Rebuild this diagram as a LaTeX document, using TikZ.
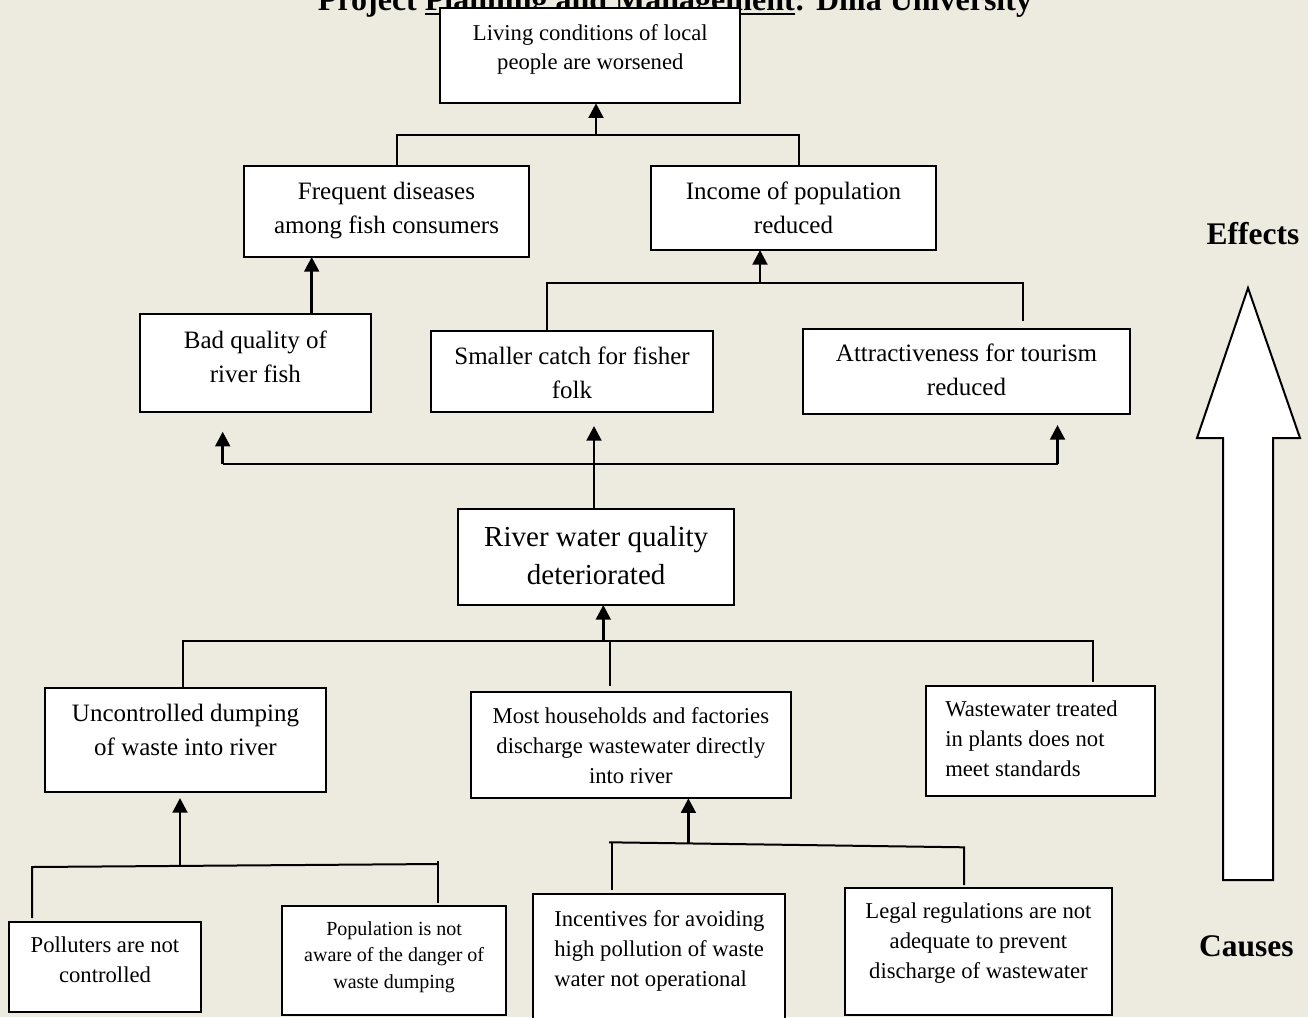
\documentclass[tikz,border=0pt]{standalone}
\usepackage{fontspec}
\setmainfont{Liberation Serif}
\usetikzlibrary{arrows.meta}
\definecolor{paper}{RGB}{237,234,224}
% underline drawn through the descenders, as a word processor does
\newcommand\titleul[1]{\setbox0\hbox{#1}\rlap{\rule[-3pt]{\wd0}{1.4pt}}\box0}
\begin{document}
\begin{tikzpicture}[x=0.75pt,y=-0.75pt,
  box/.style={draw=black, fill=white, line width=1.5pt, inner sep=0pt, outer sep=0pt},
  sz/.style 2 args={minimum width=#1*0.75pt, minimum height=#2*0.75pt},
  txt/.style={inner sep=0pt, align=center, text=black},
  fA/.style={font=\fontsize{18.75}{25.5}\selectfont},
  fB/.style={font=\fontsize{17}{22.5}\selectfont},
  fC/.style={font=\fontsize{15}{20}\selectfont},
  fD/.style={font=\fontsize{21.75}{28.7}\selectfont},
  side/.style={inner sep=0pt, anchor=base, font=\bfseries\fontsize{23.6}{28}\selectfont},
  link/.style={line width=1.5pt},
  up/.style={line width=2.2pt, -{Triangle[length=11pt,width=11pt]}},
]
\useasboundingbox (0,0) rectangle (1308,1017);
\clip (0,0) rectangle (1308,1017);
\fill[paper] (0,0) rectangle (1308,1017);

% heading
\node[inner sep=0pt, anchor=base, font=\bfseries\fontsize{24}{28}\selectfont] (title) at (675,10.7)
  {Project \titleul{Planning and Management}: Dilla University};

% boxes
\node[box, sz={300}{95}]      (top)     at (590.3,55.8) {};
\node[box, sz={285}{91.3}]    (freq)    at (386.5,211.35) {};
\node[box, sz={285}{84}]      (income)  at (793.5,208) {};
\node[box, sz={230.7}{97.7}]  (bad)     at (255.35,362.85) {};
\node[box, sz={282}{80.7}]    (smaller) at (572,371.35) {};
\node[box, sz={327}{85}]      (attract) at (966.5,371.8) {};
\node[box, sz={275.7}{95.7}]  (river)   at (596.15,557.15) {};
\node[box, sz={281}{103.7}]   (uncont)  at (185.5,739.85) {};
\node[box, sz={320.2}{106}]   (most)    at (630.9,745.3) {};
\node[box, sz={229.2}{110}]   (waste)   at (1040.4,740.7) {};
\node[box, sz={192}{90}]      (poll)    at (105,967.3) {};
\node[box, sz={223.4}{109}]   (popul)   at (394.15,960.5) {};
\node[box, sz={251.8}{135.7}] (incent)  at (659.3,962.15) {};
\node[box, sz={267.9}{126.7}] (legal)   at (978.45,951.65) {};

% box texts
\node[txt, font=\fontsize{17}{21.4}\selectfont] (top-t) at (590.3,49.2) {Living conditions of local\\people are worsened};
\node[txt, fA] (freq-t)    at (386.5,210.1)  {Frequent diseases\\among fish consumers};
\node[txt, fA] (income-t)  at (793.5,207.5)  {Income of population\\reduced};
\node[txt, fA] (bad-t)     at (255.35,356.4) {Bad quality of\\river fish};
\node[txt, fA] (smaller-t) at (572,373)      {Smaller catch for fisher\\folk};
\node[txt, fA] (attract-t) at (966.5,370.2)  {Attractiveness for tourism\\reduced};
\node[txt, fD] (river-t)   at (596.15,555.9) {River water quality\\deteriorated};
\node[txt, fA] (uncont-t)  at (185.5,729.9)  {Uncontrolled dumping\\of waste into river};
\node[txt, fB] (most-t)    at (630.9,745.2)  {Most households and factories\\discharge wastewater directly\\into river};
\node[txt, fB, align=left, anchor=west] (waste-t) at (945,739) {Wastewater treated\\in plants does not\\meet standards};
\node[txt, fB] (poll-t)    at (105,960.2)    {Polluters are not\\controlled};
\node[txt, fC] (popul-t)   at (394.15,957)   {Population is not\\aware of the danger of\\waste dumping};
\node[txt, fB, align=left, anchor=west] (incent-t) at (554,950.5) {Incentives for avoiding\\high pollution of waste\\water not operational};
\node[txt, fB] (legal-t)   at (978.45,943.5) {Legal regulations are not\\adequate to prevent\\discharge of wastewater};

% junction points
\coordinate (aL) at (396.7,135);  \coordinate (aR) at (799,135);   \coordinate (aM) at (596,135);
\coordinate (bA) at (311.7,314);
\coordinate (cL) at (546.7,282.5); \coordinate (cR) at (1022.7,282.5); \coordinate (cM) at (760,282.5);
\coordinate (cE) at (1022.7,321);
\coordinate (dL) at (222.7,463.5); \coordinate (dM) at (594,463.5);  \coordinate (dR) at (1057.5,463.5);
\coordinate (dLt) at (222.7,431.7); \coordinate (dMt) at (594,426); \coordinate (dRt) at (1057.5,425);
\coordinate (eL) at (183,640.7);  \coordinate (eR) at (1093,640.7); \coordinate (eA) at (603.3,640.7);
\coordinate (eM) at (610,640.7);  \coordinate (eMt) at (610,686);   \coordinate (eRt) at (1093,682);
\coordinate (fA) at (180,866.7);  \coordinate (fAt) at (180,798);
\coordinate (fL) at (32,867);     \coordinate (fLt) at (32,918);
\coordinate (fR) at (438,864);    \coordinate (fRs) at (438,861);  \coordinate (fRt) at (438,903);
\coordinate (gL) at (609,842.3);  \coordinate (gR) at (964,847.3); \coordinate (gRt) at (964,885);
\coordinate (gA) at (688.4,843.4);
\coordinate (gLs) at (611.8,842.7); \coordinate (gLt) at (611.8,890);

% effects tree
\draw[link] (aL |- freq.north) -- (aL) -- (aR) -- (aR |- income.north);
\draw[up] (aM) -- (aM |- top.south);
\draw[up] (bA |- bad.north) -- (bA |- freq.south);
\draw[link] (cL |- smaller.north) -- (cL) -- (cR) -- (cE);
\draw[up] (cM) -- (cM |- income.south);
\draw[link] (dM |- river.north) -- (dM);
\draw[link] (dL) -- (dR);
\draw[up] (dL) -- (dLt);
\draw[up] (dM) -- (dMt);
\draw[up] (dR) -- (dRt);

% causes tree
\draw[link] (eL |- uncont.north) -- (eL) -- (eR) -- (eRt);
\draw[link] (eM) -- (eMt);
\draw[up] (eA) -- (eA |- river.south);
\draw[link] (fLt) -- (fL) -- (fR);
\draw[link] (fRs) -- (fRt);
\draw[up] (fA) -- (fAt);
\draw[link] (gL) -- (gR) -- (gRt);
\draw[link] (gLs) -- (gLt);
\draw[up] (gA) -- (gA |- most.south);

% direction arrow with its labels
\draw[line width=1.5pt, fill=white, line join=miter]
  (1223,880) -- (1223,438) -- (1197,438) -- (1248,288) -- (1300,438) -- (1273,438) -- (1273,880) -- cycle;
\node[side] (effects) at (1253,244.3) {Effects};
\node[side] (causes)  at (1246.3,956.7) {Causes};
\end{tikzpicture}
\end{document}
